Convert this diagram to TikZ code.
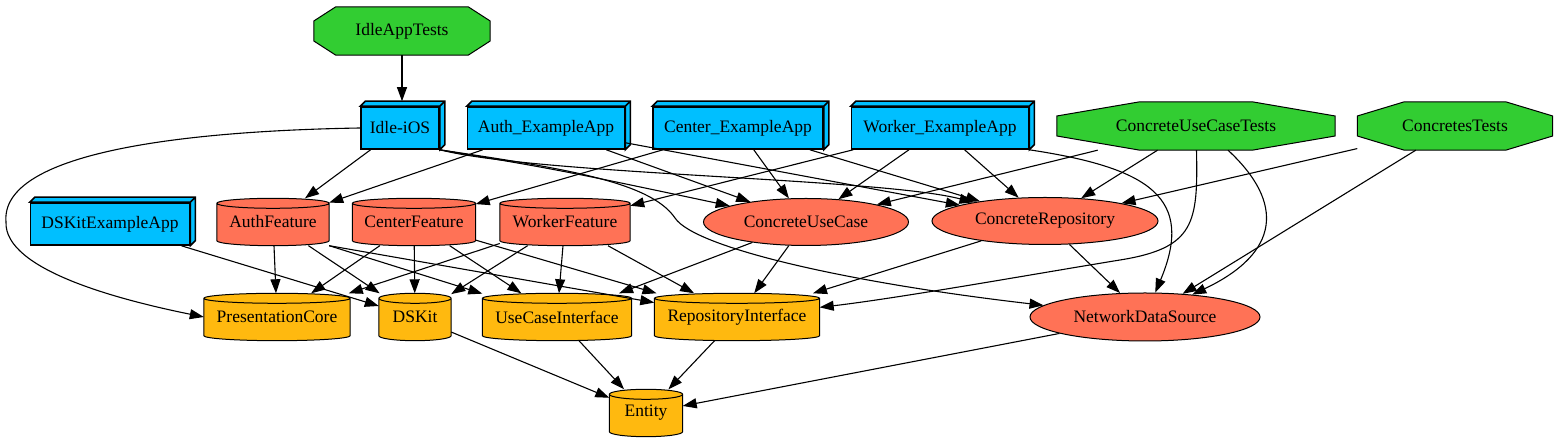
\documentclass[tikz,border=0pt]{standalone}
\usepackage{fontspec}
\setmainfont{Liberation Serif}
\usetikzlibrary{arrows.meta,shapes.geometric,backgrounds,calc}
\definecolor{appblue}{HTML}{00BFFF}
\definecolor{testgreen}{HTML}{32CD32}
\definecolor{featred}{HTML}{FF7256}
\definecolor{libgold}{HTML}{FFB90F}
\begin{document}
\begin{tikzpicture}
    [
        x=1pt, y=1pt, font=\fontsize{17.5}{21}\selectfont,
        app_style/.style={draw=black, line width=1.6pt, fill=appblue, minimum height=42pt, inner sep=0pt},
        test_style/.style={minimum height=48pt, inner sep=0pt},
        cyl_style/.style={minimum height=47pt, inner sep=0pt},
        impl_style/.style={ellipse, draw=black, line width=1pt, fill=featred, minimum height=47pt, inner sep=0pt},
        dep_style/.style={draw=black, line width=1.1pt, -{Triangle[length=14pt, width=10pt]}}
    ]
        \useasboundingbox (0,0) rectangle (1558,443);

        \node[test_style, minimum width=176pt] (idletests) at (402,412) {IdleAppTests};
        \node[app_style, minimum width=78pt] (idle) at (400,315) {Idle-iOS};
        \node[app_style, minimum width=157pt] (authapp) at (546,315) {Auth\_ExampleApp};
        \node[app_style, minimum width=170pt] (centerapp) at (738,315) {Center\_ExampleApp};
        \node[app_style, minimum width=177pt] (workerapp) at (940,315) {Worker\_ExampleApp};
        \node[test_style, minimum width=278pt] (cuctests) at (1196,317) {ConcreteUseCaseTests};
        \node[test_style, minimum width=195pt] (ctests) at (1455,317) {ConcretesTests};

        \node[app_style, minimum width=159pt] (dskitapp) at (110,219) {DSKitExampleApp};
        \node[cyl_style, minimum width=112pt] (authfeat) at (273,221) {AuthFeature};
        \node[cyl_style, minimum width=123pt] (centerfeat) at (414,221) {CenterFeature};
        \node[cyl_style, minimum width=130pt] (workerfeat) at (565,221) {WorkerFeature};
        \node[impl_style, minimum width=205pt] (cuc) at (806,221) {ConcreteUseCase};
        \node[impl_style, minimum width=226pt] (crepo) at (1045,222) {ConcreteRepository};

        \node[cyl_style, minimum width=146pt] (pcore) at (277,126) {PresentationCore};
        \node[cyl_style, minimum width=72pt] (dskit) at (415,126) {DSKit};
        \node[cyl_style, minimum width=149pt] (ucif) at (557,126) {UseCaseInterface};
        \node[cyl_style, minimum width=165pt] (rif) at (737,126) {RepositoryInterface};
        \node[impl_style, minimum width=230pt, minimum height=48pt] (nds) at (1145,126) {NetworkDataSource};
        \node[cyl_style, minimum width=73pt] (entity) at (646,30) {Entity};

        % octagons and cylinders behind the labels
        \begin{pgfonlayer}{background}
            \foreach \nd/\d in {idletests/22, cuctests/83, ctests/47}
                \filldraw[fill=testgreen, line width=1pt] ($(\nd.west)+(0,10)$) -- ($(\nd.north west)+(\d,0)$) -- ($(\nd.north east)+(-\d,0)$) -- ($(\nd.east)+(0,10)$) -- ($(\nd.east)+(0,-10)$) -- ($(\nd.south east)+(-\d,0)$) -- ($(\nd.south west)+(\d,0)$) -- ($(\nd.west)+(0,-10)$) -- cycle;
            \foreach \nd/\col in {authfeat/featred, centerfeat/featred, workerfeat/featred, pcore/libgold, dskit/libgold, ucif/libgold, rif/libgold, entity/libgold}
                \filldraw[fill=\col, line width=1pt] let \p1=(\nd.north west), \p2=(\nd.south east), \n1={(\x2-\x1)/2} in
                    (\x1,\y1-5pt) -- (\x1,\y2+5pt) arc[start angle=180, end angle=360, x radius=\n1, y radius=5pt] -- (\x2,\y1-5pt) arc[start angle=0, end angle=180, x radius=\n1, y radius=5pt] -- cycle
                    (\x1,\y1-5pt) arc[start angle=180, end angle=360, x radius=\n1, y radius=5pt];
        \end{pgfonlayer}

        % 3d faces of the app boxes
        \foreach \nd in {idle, authapp, centerapp, workerapp, dskitapp}
            \filldraw[fill=appblue, line width=1.6pt] (\nd.north west) -- ++(5,5) -- ($(\nd.north east)+(5,5)$) -- ($(\nd.south east)+(5,5)$) -- (\nd.south east) -- (\nd.north east) -- cycle (\nd.north east) -- ++(5,5);

        \draw[dep_style] (idletests) -- ([xshift=2pt,yshift=5pt]idle.north);
        \draw[dep_style] (idle) -- (authfeat);
        \draw[dep_style] (idle.west) .. controls (180,312) and (0,290) .. (6,221) .. controls (4,173) and (120,143) .. (pcore.west);
        \draw[dep_style] (idle.south east) .. controls (560,273) .. (cuc);
        \draw[dep_style] (idle.south east) .. controls (540,268) and (880,265) .. (crepo);
        \draw[dep_style] (idle.south east) .. controls (560,275) and (650,262) .. (675,225) .. controls (695,195) and (850,160) .. (nds);
        \draw[dep_style] (authapp) -- (authfeat);
        \draw[dep_style] (authapp) -- (cuc);
        \draw[dep_style] (authapp) -- (crepo);
        \draw[dep_style] (centerapp) -- (centerfeat);
        \draw[dep_style] (centerapp) -- (cuc);
        \draw[dep_style] (centerapp) -- (crepo);
        \draw[dep_style] (workerapp) -- (workerfeat);
        \draw[dep_style] (workerapp) -- (cuc);
        \draw[dep_style] (workerapp) -- (crepo);
        \draw[dep_style] (workerapp.south east) .. controls (1150,275) and (1195,245) .. (nds);
        \draw[dep_style] (cuctests) -- (cuc);
        \draw[dep_style] (cuctests) -- (crepo);
        \draw[dep_style] (cuctests) .. controls (1198,220) and (1195,195) .. (1120,183) .. controls (1040,170) and (900,145) .. (rif);
        \draw[dep_style] ([xshift=32pt]cuctests.south) .. controls (1285,240) and (1280,190) .. (nds);
        \draw[dep_style] (ctests) -- (crepo);
        \draw[dep_style] (ctests) -- (nds);
        \draw[dep_style] (dskitapp) -- (dskit);

        \draw[dep_style] (authfeat) -- (pcore);
        \draw[dep_style] (authfeat) -- (dskit);
        \draw[dep_style] (authfeat.south east) -- (ucif);
        \draw[dep_style] (authfeat.south east) -- (rif);
        \foreach \f in {centerfeat, workerfeat}
            \foreach \l in {pcore, dskit, ucif, rif}
                \draw[dep_style] (\f) -- (\l);
        \draw[dep_style] (cuc) -- (ucif);
        \draw[dep_style] (cuc) -- (rif);
        \draw[dep_style] (crepo) -- (rif);
        \draw[dep_style] (crepo) -- (nds);
        \foreach \l in {dskit, ucif, rif, nds}
            \draw[dep_style] (\l) -- (entity);
    \end{tikzpicture}
\end{document}
